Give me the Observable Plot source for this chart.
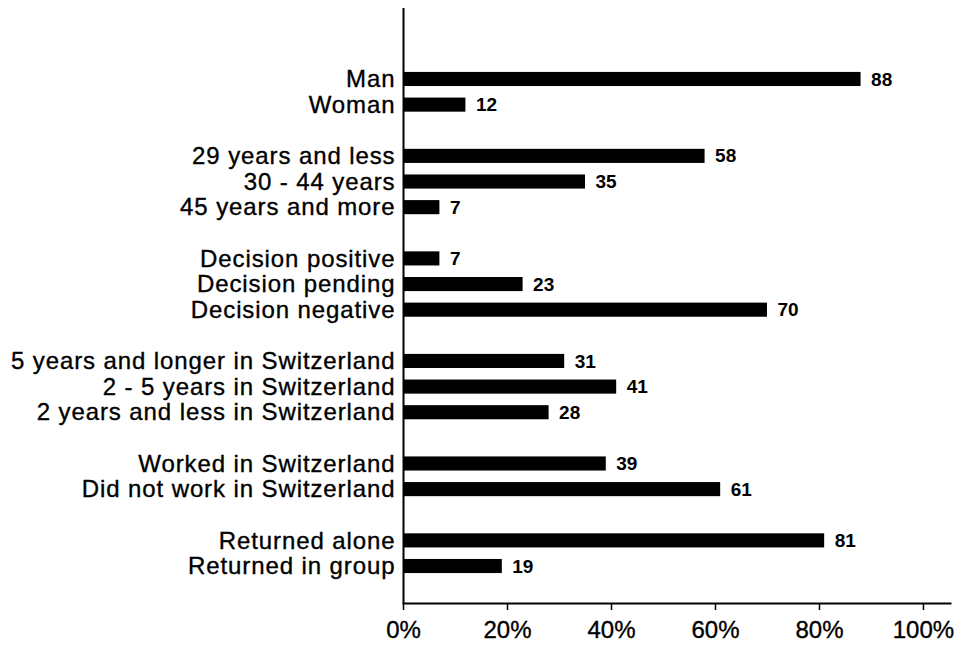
<!DOCTYPE html>
<html>
<head>
<meta charset="utf-8">
<script src="https://cdn.jsdelivr.net/npm/d3@7"></script>
<script src="https://cdn.jsdelivr.net/npm/@observablehq/plot@0.6"></script>
<style>
  html, body { margin: 0; padding: 0; background: #fff; }
  g[aria-label="y-axis tick label"] text { letter-spacing: 0.9px; stroke: #000; stroke-width: 0.35px; }
  g[aria-label="x-axis tick label"] text { stroke: #000; stroke-width: 0.35px; }
</style>
</head>
<body>
<div id="chart"></div>
<script>
const labels = [
  "Man", "Woman",
  "29 years and less", "30 - 44 years", "45 years and more",
  "Decision positive", "Decision pending", "Decision negative",
  "5 years and longer in Switzerland", "2 - 5 years in Switzerland", "2 years and less in Switzerland",
  "Worked in Switzerland", "Did not work in Switzerland",
  "Returned alone", "Returned in group"
];
const values = [88, 12, 58, 35, 7, 7, 23, 70, 31, 41, 28, 39, 61, 81, 19];
const groups = [1, 1, 2, 2, 2, 3, 3, 3, 4, 4, 4, 5, 5, 6, 6];
const xTicks = [0, 20, 40, 60, 80, 100];

const data = labels.map((label, i) => ({label, value: values[i], group: groups[i]}));

// y domain with a blank row between groups
const domain = [];
data.forEach((d, i) => {
  if (i > 0 && d.group !== data[i - 1].group) domain.push("gap" + d.group);
  domain.push(d.label);
});
const yFormat = d => d.startsWith("gap") ? "" : d;

const chart = Plot.plot({
  width: 961,
  height: 647,
  marginLeft: 403,
  marginRight: 11,
  marginTop: 8,
  marginBottom: 44,
  style: {fontFamily: "'Liberation Sans', Arial, sans-serif", color: "#000", background: "#fff", overflow: "visible"},
  x: {domain: [0, 105.2]},
  y: {domain, range: [60.4, 584.6], padding: 0.45, round: false},
  marks: [
    Plot.barX(data, {x: "value", y: "label", fill: "#000"}),
    Plot.text(data, {x: "value", y: "label", text: d => String(d.value), dx: 10, textAnchor: "start", fontWeight: "bold", fontSize: 19, fill: "#000"}),
    Plot.axisX({ticks: xTicks, tickFormat: d => d + "%", tickSize: 7, tickPadding: 10, fontSize: 24, strokeWidth: 1.5, label: null}),
    Plot.axisY({tickSize: 0, tickPadding: 8, tickFormat: yFormat, fontSize: 24, label: null}),
    Plot.ruleX([0], {strokeWidth: 2}),
    Plot.frame({anchor: "bottom", strokeWidth: 2})
  ]
});
document.getElementById("chart").appendChild(chart);
</script>
</body>
</html>
